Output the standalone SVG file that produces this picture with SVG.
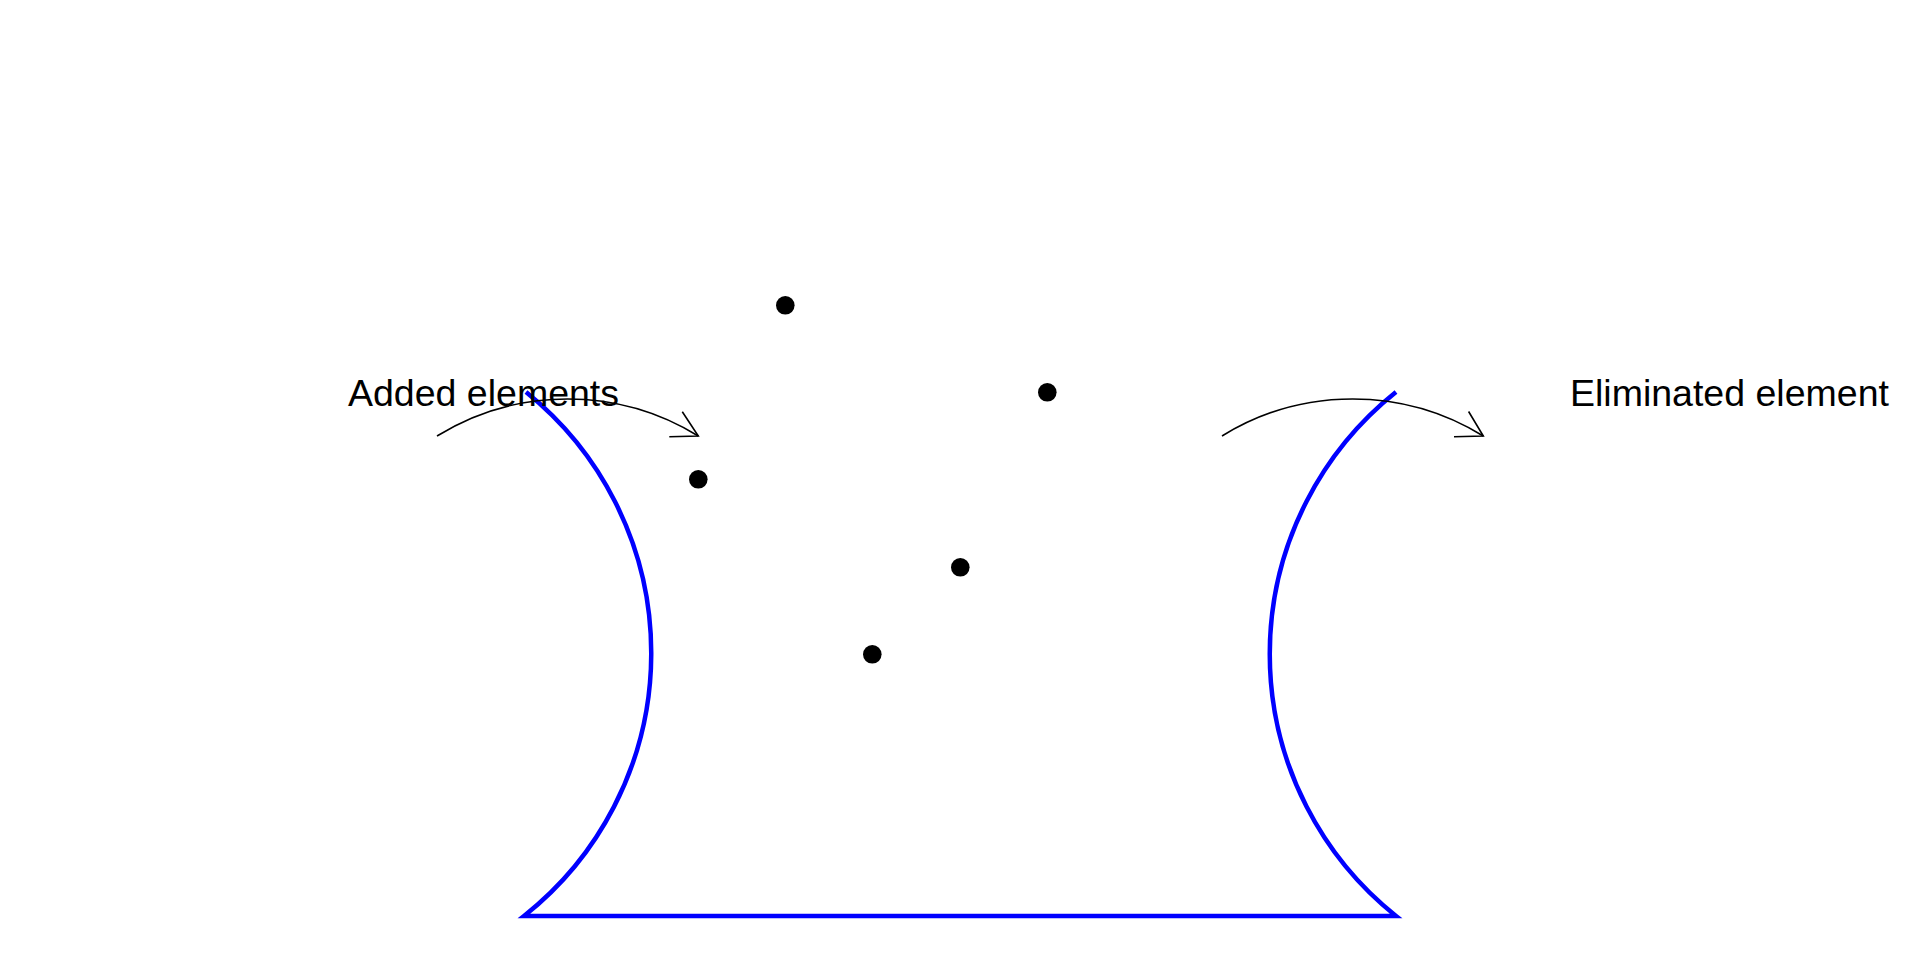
<svg xmlns="http://www.w3.org/2000/svg" width="1920" height="960" viewBox="0 0 1920 960">
<style>
.lbl{font-family:"Liberation Sans",Arial,sans-serif;font-size:37.5px;fill:#000}
.blue{fill:none;stroke:#0000ff;stroke-width:4.5}
.arc{fill:none;stroke:#000;stroke-width:1.6}
.dot{fill:#000}
</style>
<rect width="1920" height="960" fill="#fff"/>
<g id="shape">
<path class="blue" d="M526 392 A335 335 0 0 1 524 916 L1396 916 A335 335 0 0 1 1396 392"/>
</g>
<g id="points">
<circle class="dot" cx="785.3" cy="305.3" r="9.3"/>
<circle class="dot" cx="1047.3" cy="392.3" r="9.3"/>
<circle class="dot" cx="698.3" cy="479.3" r="9.3"/>
<circle class="dot" cx="960.3" cy="567.3" r="9.3"/>
<circle class="dot" cx="872.3" cy="654.3" r="9.3"/>
</g>
<g id="labels">
<text class="lbl" x="348" y="406">Added elements</text>
<text class="lbl" x="1570" y="406">Eliminated element</text>
</g>
<g id="connectors">
<path class="arc" d="M437 436 A249 249 0 0 1 698.3 436"/>
<path class="arc" d="M669.3 436.7 L698.3 436 L682.3 411.7"/>
<path class="arc" d="M1222 436 A249 249 0 0 1 1483.3 436"/>
<path class="arc" d="M1454 436.7 L1483.3 436 L1468.6 411.5"/>
</g>
</svg>
